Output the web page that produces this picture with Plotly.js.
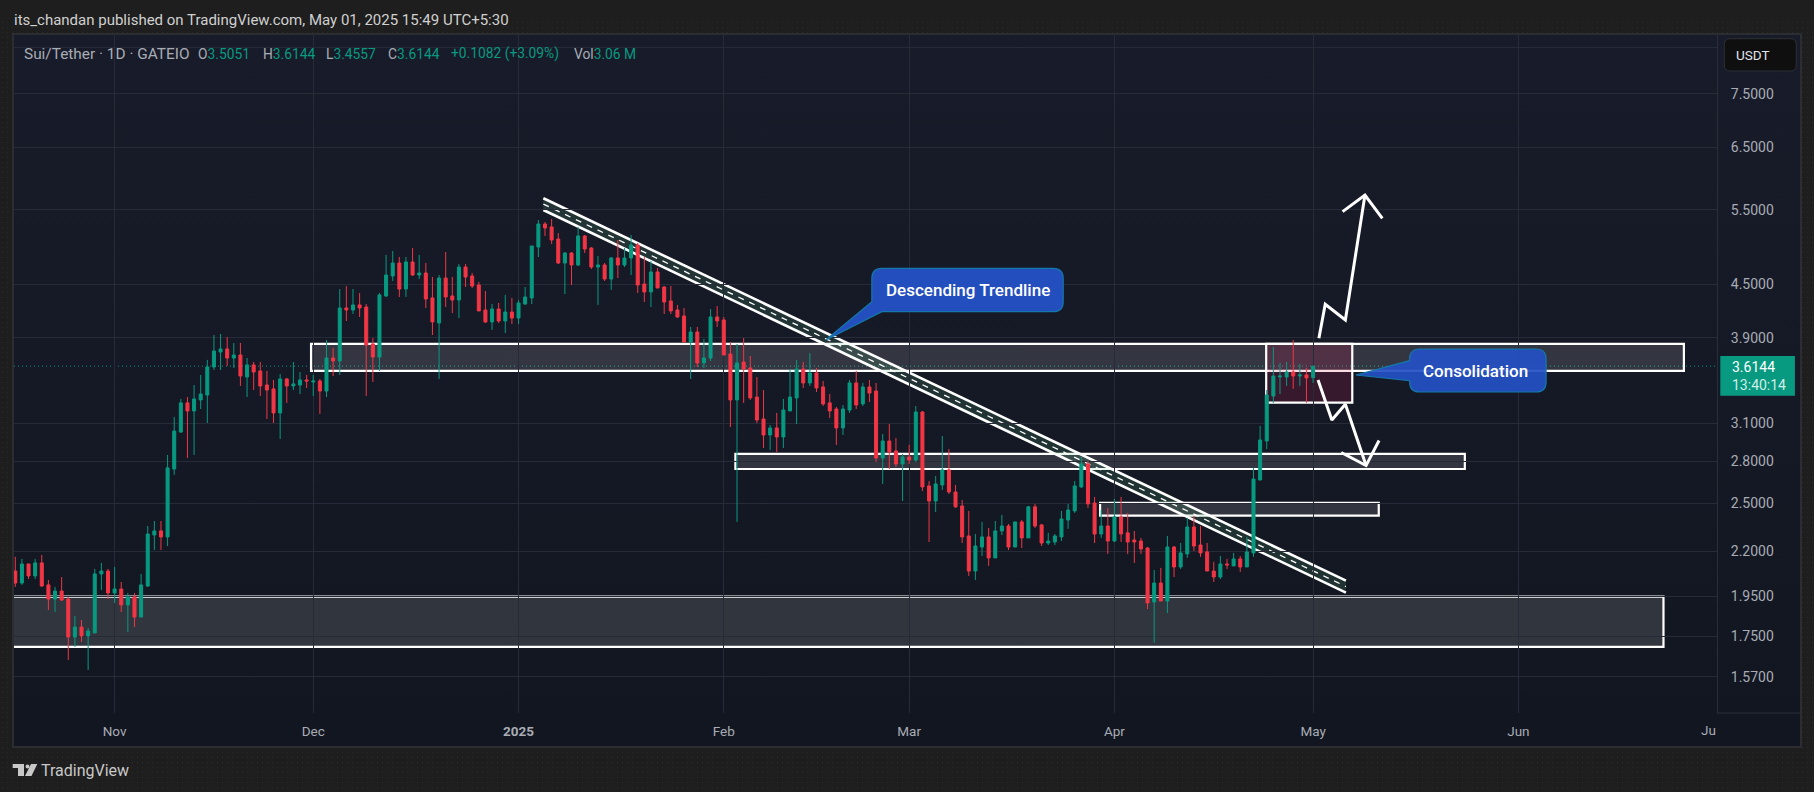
<!DOCTYPE html>
<html><head><meta charset="utf-8">
<script src="https://cdn.plot.ly/plotly-3.0.1.min.js"></script>
<style>
html,body{margin:0;padding:0;background:#1e1e1e;width:1814px;height:792px;overflow:hidden}
#tex{position:absolute;left:0;top:20px;width:1814px;height:772px;background-image:radial-gradient(#2a2a2a .6px,transparent .8px);background-size:5px 5px}
#panel{position:absolute;left:12px;top:33px;width:1790px;height:715px;box-sizing:border-box;border:2px solid #2b2d30;background:linear-gradient(#181c2a,#121620)}
#chart{position:absolute;left:0;top:0;width:1814px;height:792px}
</style></head><body>
<div id="tex"></div><div id="panel"></div><div id="chart"></div>
<script>
const firstDay = "2024-10-17";
const open = [2.086,2.020,2.126,2.059,2.132,2.010,1.935,1.977,1.935,1.748,1.795,1.753,1.767,2.070,2.086,1.967,1.988,1.905,1.946,1.844,
2.004,2.298,2.323,2.286,2.743,3.029,3.275,3.205,3.301,3.345,3.606,3.754,3.785,3.694,3.724,3.511,3.626,3.568,3.436,3.400,
3.188,3.492,3.427,3.436,3.483,3.464,3.473,3.381,3.694,3.665,4.225,4.202,4.259,4.236,3.836,3.704,4.363,4.603,4.766,4.445,
4.779,4.615,4.640,4.340,4.058,4.578,4.363,4.316,4.715,4.603,4.493,4.202,4.069,4.213,4.080,4.179,4.112,4.270,4.340,4.975,
5.292,5.250,5.083,4.766,4.896,4.741,5.125,4.962,4.715,4.741,4.566,4.831,4.741,4.831,5.002,4.505,4.410,4.653,4.469,4.305,
4.202,4.135,3.856,3.961,3.645,3.694,4.124,4.091,3.734,3.301,3.655,3.597,3.327,3.137,3.005,3.062,2.989,3.205,3.319,3.587,
3.455,3.549,3.418,3.275,3.222,3.062,3.213,3.455,3.266,3.418,3.381,2.825,2.957,2.879,2.780,2.833,2.810,3.196,2.621,2.517,
2.628,2.736,2.579,2.484,2.292,2.086,2.225,2.286,2.161,2.323,2.354,2.225,2.380,2.280,2.478,2.361,2.249,2.255,2.286,2.392,
2.451,2.614,2.780,2.504,2.304,2.354,2.261,2.412,2.311,2.267,2.261,2.219,1.920,2.020,1.925,2.225,2.109,2.184,2.348,2.237,
2.196,2.086,2.053,2.126,2.115,2.155,2.109,2.190,2.663,2.957,3.336,3.511,3.511,3.558,3.520,3.530,3.5051];
const high = [2.167,2.155,2.126,2.155,2.178,2.037,1.999,2.053,1.946,1.849,1.829,1.791,2.098,2.132,2.098,2.109,2.026,1.967,1.967,2.070,
2.354,2.386,2.386,2.848,3.154,3.310,3.327,3.436,3.530,3.675,3.929,3.940,3.908,3.846,3.846,3.694,3.655,3.655,3.568,3.483,
3.539,3.502,3.655,3.558,3.530,3.530,3.492,3.877,3.795,4.445,4.481,4.445,4.398,4.270,3.898,4.398,4.870,4.922,4.844,4.844,
4.962,4.870,4.766,4.591,4.615,4.909,4.591,4.753,4.753,4.640,4.530,4.422,4.270,4.282,4.375,4.340,4.316,4.469,4.989,5.349,
5.321,5.364,5.166,4.909,4.909,5.250,5.138,4.975,4.857,4.766,4.844,5.070,4.962,5.138,5.029,4.844,4.792,4.703,4.481,4.481,
4.259,4.225,4.015,4.015,3.887,4.213,4.247,4.124,3.856,3.836,3.898,3.714,3.511,3.390,3.087,3.188,3.310,3.587,3.675,3.655,
3.744,3.597,3.473,3.354,3.240,3.257,3.483,3.568,3.455,3.483,3.455,3.013,3.095,2.981,2.856,2.926,3.248,3.205,2.656,2.692,
2.997,2.894,2.628,2.524,2.451,2.304,2.380,2.342,2.386,2.425,2.367,2.380,2.392,2.484,2.498,2.367,2.311,2.304,2.451,2.498,
2.656,2.833,2.803,2.545,2.457,2.471,2.531,2.545,2.438,2.323,2.280,2.225,2.092,2.104,2.292,2.231,2.249,2.406,2.419,2.354,
2.249,2.138,2.172,2.155,2.190,2.172,2.286,2.751,3.079,3.390,3.805,3.645,3.655,3.877,3.635,3.597,3.6144];
const low = [1.999,2.010,2.042,2.042,1.999,1.879,1.869,1.925,1.643,1.702,1.725,1.600,1.767,1.983,1.935,1.915,1.869,1.772,1.795,1.844,
1.999,2.207,2.207,2.231,2.700,3.021,2.825,2.848,3.222,3.103,3.577,3.577,3.616,3.597,3.427,3.327,3.390,3.336,3.137,3.103,
2.973,3.275,3.390,3.354,3.409,3.336,3.179,3.327,3.520,3.530,4.080,4.157,4.124,3.336,3.464,3.568,4.351,4.542,4.351,4.351,
4.603,4.566,4.225,3.929,3.492,4.236,4.168,4.112,4.469,4.457,4.191,4.058,3.982,4.058,3.950,4.047,4.047,4.259,4.270,4.844,
5.125,5.016,4.753,4.386,4.493,4.728,4.896,4.690,4.259,4.542,4.434,4.578,4.715,4.615,4.398,4.293,4.236,4.457,4.157,4.157,
4.112,3.856,3.492,3.606,3.597,3.665,4.015,3.724,3.070,2.380,3.275,3.301,3.103,2.902,2.886,2.871,2.902,3.205,3.095,3.409,
3.427,3.372,3.248,3.145,2.926,3.005,3.188,3.222,3.248,3.283,2.795,2.635,2.743,2.758,2.517,2.780,2.795,2.586,2.255,2.444,
2.593,2.565,2.471,2.249,2.059,2.037,2.172,2.115,2.161,2.298,2.207,2.225,2.219,2.280,2.342,2.231,2.237,2.237,2.261,2.336,
2.438,2.607,2.471,2.249,2.280,2.184,2.255,2.255,2.184,2.132,2.184,1.884,1.720,1.925,1.864,2.053,2.098,2.161,2.201,2.167,
2.086,2.026,2.042,2.098,2.115,2.081,2.109,2.167,2.663,2.894,3.275,3.354,3.427,3.400,3.427,3.275,3.4557];
const close = [2.020,2.126,2.059,2.132,2.004,1.935,1.977,1.930,1.748,1.795,1.753,1.776,2.070,2.086,1.967,1.988,1.905,1.946,1.844,2.010,
2.304,2.323,2.286,2.751,3.037,3.275,3.205,3.310,3.354,3.606,3.764,3.785,3.694,3.724,3.520,3.626,3.558,3.427,3.390,3.188,
3.492,3.427,3.446,3.483,3.473,3.473,3.381,3.694,3.665,4.225,4.202,4.259,4.225,3.825,3.704,4.375,4.615,4.766,4.445,4.779,
4.615,4.640,4.328,4.069,4.578,4.351,4.316,4.715,4.591,4.481,4.191,4.069,4.213,4.080,4.179,4.112,4.282,4.351,4.989,5.292,
5.236,5.070,4.766,4.896,4.741,5.125,4.949,4.715,4.741,4.566,4.831,4.741,4.831,5.002,4.493,4.410,4.653,4.457,4.293,4.191,
4.124,3.856,3.961,3.645,3.694,4.124,4.080,3.724,3.301,3.645,3.587,3.319,3.128,3.005,3.062,2.989,3.213,3.327,3.587,3.455,
3.549,3.409,3.266,3.205,3.062,3.222,3.455,3.257,3.418,3.363,2.825,2.957,2.871,2.780,2.833,2.810,3.196,2.614,2.517,2.635,
2.736,2.579,2.478,2.286,2.086,2.231,2.286,2.161,2.323,2.354,2.225,2.380,2.280,2.478,2.354,2.249,2.261,2.292,2.399,2.457,
2.621,2.780,2.498,2.304,2.354,2.261,2.412,2.304,2.255,2.255,2.213,1.915,2.020,1.925,2.225,2.109,2.190,2.348,2.231,2.190,
2.086,2.053,2.126,2.121,2.155,2.109,2.196,2.670,2.965,3.345,3.520,3.520,3.558,3.520,3.530,3.502,3.6144];

const priceTicks = [8.5,7.5,6.5,5.5,4.5,3.9,3.1,2.8,2.5,2.2,1.95,1.75,1.57];
const priceLabels = ["","7.5000","6.5000","5.5000","4.5000","3.9000","3.1000","2.8000","2.5000","2.2000","1.9500","1.7500","1.5700"];
const monthTicks = ["2024-11-01","2024-12-01","2025-01-01","2025-02-01","2025-03-01","2025-04-01","2025-05-01","2025-06-01","2025-07-01"];
const monthLabels = ["Nov","Dec","<b>2025</b>","Feb","Mar","Apr","May","Jun",""];

// zones: [start, end, top price, bottom price]
const zoneTop = ["2024-11-30 16:00","2025-06-26 00:00",3.836,3.568];
const zoneMid = ["2025-02-02 18:00","2025-05-23 22:00",2.856,2.743];
const zoneLow = ["2025-03-29 20:00","2025-05-10 22:00",2.504,2.421];
const zoneBase = ["2024-10-01 00:00","2025-06-22 22:00",1.948,1.702];
const zoneCons = ["2025-04-23 22:00","2025-05-06 22:00",3.836,3.277];

const trendX = ["2025-01-04 18:00","2025-05-05 23:00"];
const trendUpper = [5.670,2.033];
const trendMiddle = [5.582,2.001];
const trendLower = [5.495,1.969];

const upX = ["2025-05-01 21:00","2025-05-02 20:00","2025-05-05 21:00","2025-05-08 20:00"];
const upY = [3.895,4.267,4.091,5.720];
const upHeadX = ["2025-05-05 11:00","2025-05-08 20:00","2025-05-11 11:00"];
const upHeadY = [5.470,5.720,5.373];
const downX = ["2025-05-01 18:00","2025-05-03 20:00","2025-05-05 21:00","2025-05-09 00:00"];
const downY = [3.483,3.128,3.263,2.768];
const downHeadX = ["2025-05-05 06:00","2025-05-09 00:00","2025-05-10 23:00"];
const downHeadY = [2.867,2.768,2.961];

const lastPrice = 3.6144;
const GREEN="#089981", RED="#F23645", GRID="#272b37", WHITE="#ffffff";
const FONT="Roboto, sans-serif";

const dates = open.map((_,i)=>{const d=new Date(firstDay+"T00:00:00Z");d.setUTCDate(d.getUTCDate()+i);return d.toISOString().slice(0,10);});

// plot frame in page pixels
const L=14,R=1716.7,T=34,B=713;
const px=(x,y)=>((x-L)/(R-L)).toFixed(5)+","+((B-y)/(B-T)).toFixed(5);
const fx=x=>(x-L)/(R-L), fy=y=>(B-y)/(B-T);

function zone(z,fill){return {type:"rect",layer:"below",xref:"x",yref:"y",x0:z[0],x1:z[1],y0:z[2],y1:z[3],
  fillcolor:fill||"rgba(255,255,255,0.13)",line:{color:WHITE,width:2.2}};}
function tline(y,w,dash){return {type:"line",layer:"below",xref:"x",yref:"y",x0:trendX[0],x1:trendX[1],y0:y[0],y1:y[1],
  line:{color:WHITE,width:w,dash:dash||"solid"}};}
const stamp=s=>s.replace(" ","_");
const shapes=[
 zone(zoneTop),zone(zoneMid),zone(zoneLow),zone(zoneBase),
 zone(zoneCons,"rgba(225,30,90,0.17)"),
 {type:"path",layer:"below",xref:"x",yref:"y",
  path:`M${stamp(trendX[0])},${trendUpper[0]} L${stamp(trendX[1])},${trendUpper[1]} L${stamp(trendX[1])},${trendLower[1]} L${stamp(trendX[0])},${trendLower[0]} Z`,
  fillcolor:"rgba(100,190,130,0.16)",line:{width:0}},
 tline(trendUpper,2.6),tline(trendLower,2.6),tline(trendMiddle,1.3,"6px,6px"),
 {type:"line",layer:"below",xref:"paper",yref:"y",x0:0,x1:1,y0:lastPrice,y1:lastPrice,line:{color:GREEN,width:1,dash:"1px,3px"}},
];
function callout(path,fill){return {type:"path",layer:"above",xref:"paper",yref:"paper",path,fillcolor:fill,line:{color:"#1478aa",width:1.2}};}
// rounded box, with an optional list of extra points on its left/bottom edge for the pointer
function box(a,b,c,d,r,bottomPts,leftPts){
 let s=`M${px(a+r,b)} L${px(c-r,b)} Q${px(c,b)} ${px(c,b+r)} L${px(c,d-r)} Q${px(c,d)} ${px(c-r,d)} `;
 if(bottomPts) s+=bottomPts.map(p=>"L"+px(p[0],p[1])).join(" ")+" ";
 else s+=`L${px(a+r,d)} Q${px(a,d)} ${px(a,d-r)} `;
 if(leftPts) s+=leftPts.map(p=>"L"+px(p[0],p[1])).join(" ")+" ";
 s+=`L${px(a,b+r)} Q${px(a,b)} ${px(a+r,b)} Z`;
 return s;}
shapes.push(callout(box(871.7,268.3,1063,311.7,10,[[881.7,311.7],[825.7,340],[871.7,301.7]]),"rgba(36,80,196,0.96)"));
shapes.push(callout(box(1409.4,349,1545.8,392,10,null,[[1409.4,380.7],[1355.6,375],[1409.4,360.7]]),"rgba(36,80,196,0.92)"));
// price tag, currency button, bottom rule of the price scale, logo
shapes.push({type:"rect",layer:"above",xref:"paper",yref:"paper",x0:fx(1720),x1:fx(1794.6),y0:fy(395.7),y1:fy(356),fillcolor:"#089981",line:{width:0}});
shapes.push({type:"path",layer:"above",xref:"paper",yref:"paper",path:box(1724,38.7,1796,71,6),fillcolor:"#0f0f0f",line:{color:"#2e3036",width:1}});
shapes.push({type:"line",layer:"above",xref:"paper",yref:"paper",x0:fx(R),x1:fx(1800),y0:0,y1:0,line:{color:"#2a2e39",width:1}});
const poly=pts=>"M"+pts.map(p=>px(p[0],p[1])).join(" L")+" Z";
shapes.push({type:"path",layer:"above",xref:"paper",yref:"paper",fillcolor:"#c8c8c8",line:{width:0},path:poly([[12.7,764],[24,764],[24,776],[18,776],[18,768],[12.7,768]])});
shapes.push({type:"circle",layer:"above",xref:"paper",yref:"paper",x0:fx(25.5),x1:fx(29.5),y0:fy(768.5),y1:fy(764.5),fillcolor:"#c8c8c8",line:{width:0}});
shapes.push({type:"path",layer:"above",xref:"paper",yref:"paper",fillcolor:"#c8c8c8",line:{width:0},path:poly([[31,764],[37.3,764],[31.5,776],[25,776]])});

function txt(x,y,text,size,color,anchor,weight){return {xref:"paper",yref:"paper",x:fx(x),y:fy(y),text,showarrow:false,xanchor:anchor||"left",yanchor:"middle",
  borderpad:0,font:{family:FONT,size,color,weight:weight||400}};}
const lbl="#a9acb5",val=GREEN;
const v=s=>`<span style="color:${val}">${s}</span>`;
const annotations=[
 txt(13,20,"its_chandan published on TradingView.com, May 01, 2025 15:49 UTC+5:30",15,"#d0d0d0"),
 txt(22.5,53.5,"Sui/Tether · 1D · GATEIO",15.4,lbl),
 txt(197,53.5,"O"+v("3.5051"),13.8,lbl),
 txt(262,53.5,"H"+v("3.6144"),13.8,lbl),
 txt(325,53.5,"L"+v("3.4557"),13.8,lbl),
 txt(387,53.5,"C"+v("3.6144"),13.8,lbl),
 txt(450,53.5,v("+0.1082 (+3.09%)"),13.8,lbl),
 txt(573,53.5,"Vol"+v("3.06 M"),13.8,lbl),
 txt(967.4,290,"Descending Trendline",17,"#ffffff","center",500),
 txt(1475,370.5,"Consolidation",17,"#ffffff","center",500),
 txt(1731,366.7,"3.6144",14,"#ffffff"),
 txt(1731,385,"13:40:14",14,"#cfeee7"),
 txt(1735,54.5,"USDT",13.5,"#e0e3eb"),
 txt(1716.5,730,"Ju",13.5,"#a9acb5","right"),
 txt(40,770.7,"TradingView",16,"#c8c8c8","left",400),
];

const arrow=(x,y)=>({type:"scatter",mode:"lines",x,y,line:{color:WHITE,width:3},hoverinfo:"skip",showlegend:false,cliponaxis:false});
const data=[
 {type:"candlestick",x:dates,open,high,low,close,whiskerwidth:0,showlegend:false,
  increasing:{line:{color:GREEN,width:1},fillcolor:GREEN},
  decreasing:{line:{color:RED,width:1},fillcolor:RED}},
 arrow(upX,upY),arrow(upHeadX,upHeadY),arrow(downX,downY),arrow(downHeadX,downHeadY),
];
const layout={width:1814,height:792,autosize:false,showlegend:false,
 margin:{l:L,r:1814-R,t:T,b:792-B,pad:0},
 paper_bgcolor:"rgba(0,0,0,0)",plot_bgcolor:"rgba(0,0,0,0)",
 boxgap:0.35,hovermode:false,
 font:{family:FONT,color:"#a9acb5",size:13.5},
 xaxis:{type:"date",range:["2024-10-16 19:18","2025-07-01 00:00"],rangeslider:{visible:false},
  tickmode:"array",tickvals:monthTicks,ticktext:monthLabels,ticks:"",showgrid:true,gridcolor:GRID,gridwidth:1,
  zeroline:false,showline:false,tickangle:0,ticklabelstandoff:8,tickfont:{size:13.5,color:"#a9acb5"}},
 yaxis:{type:"log",side:"right",range:[0.15395,0.94495],tickmode:"array",tickvals:priceTicks,ticktext:priceLabels,ticks:"",
  showgrid:true,gridcolor:GRID,gridwidth:1,zeroline:false,showline:true,linecolor:"#2a2e39",linewidth:1,
  ticklabelstandoff:10,tickfont:{size:14,color:"#a9acb5"}},
 shapes,annotations};
Plotly.newPlot("chart",data,layout,{displayModeBar:false,staticPlot:true});
</script></body></html>
